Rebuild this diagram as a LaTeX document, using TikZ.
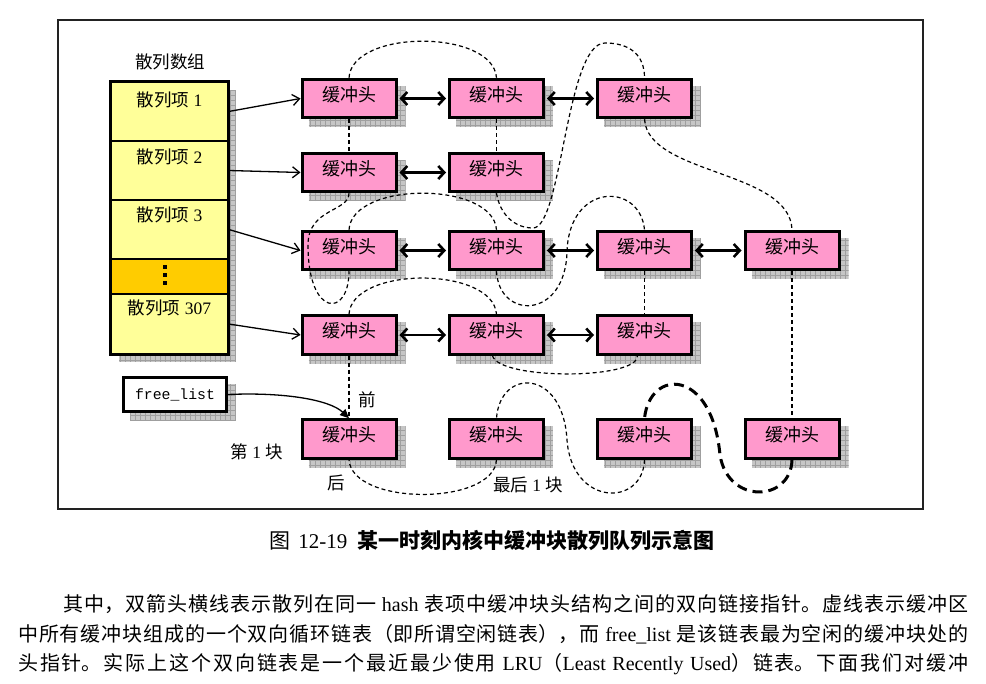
\documentclass[tikz,border=0pt]{standalone}
\usepackage{fontspec}
\setmainfont{Liberation Serif}
\setmonofont{Liberation Mono}
\newfontfamily\cjk{Noto Sans CJK SC}
\usetikzlibrary{arrows.meta}
\XeTeXlinebreaklocale "zh"
\XeTeXlinebreakskip=0pt plus 3pt

\definecolor{bufpink}{HTML}{FF99CC}
\definecolor{hashyellow}{HTML}{FFFF99}
\definecolor{hashorange}{HTML}{FFCC00}
\definecolor{framegray}{HTML}{222222}

\newcommand\shadowat[4]{%
  \begin{scope}
    \clip ({#1-#3+8},{#2-#4+8}) rectangle ({#1+#3+8},{#2+#4+8});
    \fill[gray!45] ({#1-#3+8},{#2-#4+8}) rectangle ({#1+#3+8},{#2+#4+8});
    \draw[gray!75, line width=0.5pt, step=5pt] ({#1-#3+8},{#2-#4+8}) grid ({#1+#3+8},{#2+#4+8});
  \end{scope}}

\newcommand\bufbox[3]{%
  \shadowat{#2}{#3}{48.5}{20.75}
  \node[buf] (#1) at (#2,#3) {\cjk 缓冲头};}

\newcommand\bodyfont{\fontsize{20pt}{24pt}\selectfont}
\newcommand\bodyline[1]{\parbox{950pt}{\bodyfont\tolerance=10000\parfillskip=0pt\noindent #1}}

\tikzset{
  buf/.style={draw, line width=3pt, fill=bufpink, minimum width=94pt, minimum height=38.5pt,
    inner sep=0pt, font=\fontsize{18pt}{21pt}\selectfont, text height=12.5pt, text depth=7pt},
  cell/.style={draw, line width=1.5pt, fill=hashyellow, minimum width=117pt, inner sep=0pt},
  lbl/.style={inner sep=0pt, font=\fontsize{17.5pt}{20pt}\selectfont},
  darr/.style={line width=2.6pt, {Straight Barb[length=6pt,width=13pt]}-{Straight Barb[length=6pt,width=13pt]},
    shorten >=2pt, shorten <=2pt},
  harr/.style={line width=1.3pt, -{Straight Barb[length=7pt,width=11pt]}},
  dsh/.style={line width=1.2pt, dash pattern=on 4pt off 3pt},
  bdsh/.style={line width=3pt, dash pattern=on 10pt off 6pt},
}

\begin{document}
\begin{tikzpicture}[x=1pt, y=-1pt]
\useasboundingbox (0,0) rectangle (986,684);
\fill[white] (0,0) rectangle (986,684);
\draw[line width=1.5pt, framegray] (58,20) rectangle (923,509);

% hash array
\shadowat{169.5}{218}{58.5}{136}
\node[cell, minimum height=59pt] (h1) at (169.5,111.5) {};
\node[cell, minimum height=59pt] (h2) at (169.5,170.5) {};
\node[cell, minimum height=59pt] (h3) at (169.5,229.5) {};
\node[cell, minimum height=35pt, fill=hashorange] (hd) at (169.5,276.5) {};
\node[cell, minimum height=60pt] (h307) at (169.5,324) {};
\draw[line width=3pt] (h1.north west) rectangle (h307.south east);
\fill (163,265) rectangle (167,269);
\fill (163,273) rectangle (167,277);
\fill (163,281) rectangle (167,285);

\node[lbl] (ttl) at (170,62) {\cjk 散列数组};
\node[lbl] (t1) at (169.5,100) {{\cjk 散列项} 1};
\node[lbl] (t2) at (169.5,157) {{\cjk 散列项} 2};
\node[lbl] (t3) at (169.5,215) {{\cjk 散列项} 3};
\node[lbl] (t307) at (169.5,308) {{\cjk 散列项} 307};

% free_list
\shadowat{175}{394.5}{53}{18.5}
\node[draw, line width=3pt, fill=white, minimum width=103pt, minimum height=34pt, inner sep=0pt,
  font=\ttfamily\fontsize{14.8pt}{17pt}\selectfont] (fl) at (175,394.5) {free\_list};

% buffer heads
\bufbox{b11}{349}{98.5}
\bufbox{b12}{496.5}{98.5}
\bufbox{b13}{644.5}{98.5}
\bufbox{b21}{349}{172.5}
\bufbox{b22}{496.5}{172.5}
\bufbox{b31}{349}{250.5}
\bufbox{b32}{496.5}{250.5}
\bufbox{b33}{644.5}{250.5}
\bufbox{b34}{792}{250.5}
\bufbox{b41}{349}{335}
\bufbox{b42}{496.5}{335}
\bufbox{b43}{644.5}{335}
\bufbox{b51}{349}{439}
\bufbox{b52}{496.5}{439}
\bufbox{b53}{644.5}{439}
\bufbox{b54}{792}{439}

% hash arrows
\draw[harr] (h1.east) -- (b11.west);
\draw[harr] (h2.east) -- (b21.west);
\draw[harr] (h3.east) -- (b31.west);
\draw[harr] (h307.east) -- (b41.west);

% double arrows
\draw[darr] (b11.east) -- (b12.west);
\draw[darr] (b12.east) -- (b13.west);
\draw[darr] (b21.east) -- (b22.west);
\draw[darr] (b31.east) -- (b32.west);
\draw[darr] (b32.east) -- (b33.west);
\draw[darr] (b33.east) -- (b34.west);
\draw[darr] (b41.east) -- (b42.west);
\draw[darr] (b42.east) -- (b43.west);

% LRU dashed list
\draw[dsh] (b11.north) .. controls (352,29) and (493,29) .. (b12.north);
\draw[dsh] (b11.south) -- (b21.north);
\draw[dsh] (b12.south) -- (b22.north);
\draw[dsh] (b21.south) .. controls (349,212) and (308,208) .. (308,245)
  .. controls (308,318) and (349,318) .. (b31.south);
\draw[dsh] (b31.north) .. controls (352,181) and (493,181) .. (b32.north);
\draw[dsh] (b41.north) .. controls (352,266) and (493,266) .. (b42.north);
\draw[dsh] (b22.south) .. controls (500,215) and (515,228) .. (533,228)
  .. controls (562,228) and (566,43) .. (605,43)
  .. controls (630,43) and (644.5,55) .. (b13.north);
\draw[dsh] (b13.south) .. controls (648,175) and (790,170) .. (b34.north);
\draw[dsh] (b32.south) .. controls (499,320) and (565,320) .. (567,252)
  .. controls (569,182) and (640,182) .. (b33.north);
\draw[dsh] (b33.south) -- (b43.north);
\draw[dsh] ([xshift=-4pt]b42.south) .. controls (499,380) and (638,380) .. ([xshift=-7pt]b43.south);
\draw[dsh] (b41.south) -- (b51.north);
\draw[dsh] (b34.south) -- (b54.north);
\draw[bdsh] (b54.south) .. controls (791,502) and (728,505) .. (720,455)
  .. controls (712,368) and (650,368) .. (b53.north);
\draw[dsh] (b53.south) .. controls (643,507) and (572,507) .. (567,440)
  .. controls (563,368) and (500,368) .. (b52.north);
\draw[dsh] (b52.south) .. controls (494,506) and (352,506) .. (b51.south);

% free_list arrow
\draw[line width=1.3pt, -{Triangle[length=9pt,width=8pt]}] (fl.east) .. controls (285,392) and (330,400) .. (b51.north);

% labels
\node[lbl] (qian) at (367.7,400) {\cjk 前};
\node[lbl] (hou) at (336.7,483) {\cjk 后};
\node[lbl] (zuihou) at (528,485) {{\cjk 最后} 1 {\cjk 块}};
\node[lbl] (diyi) at (256.7,451.7) {{\cjk 第} 1 {\cjk 块}};

% caption
\node[inner sep=0pt] (cap) at (492,540) {\fontsize{21pt}{24pt}\selectfont{\cjk 图}\hspace{0.4em}12-19\hspace{0.5em}{\cjk\bfseries 某一时刻内核中缓冲块散列队列示意图}};

% body text
\node[anchor=west, inner sep=0pt] (p1) at (18,604) {\bodyline{\hspace*{45pt}{\cjk 其中，双箭头横线表示散列在同一} hash {\cjk 表项中缓冲块头结构之间的双向链接指针。虚线表示缓冲区}}};
\node[anchor=west, inner sep=0pt] (p2) at (18,634) {\bodyline{{\cjk 中所有缓冲块组成的一个双向循环链表（即所谓空闲链表），而} free\_list {\cjk 是该链表最为空闲的缓冲块处的}}};
\node[anchor=west, inner sep=0pt] (p3) at (18,664) {\bodyline{{\cjk 头指针。实际上这个双向链表是一个最近最少使用} LRU{\cjk （}Least Recently Used{\cjk ）链表。下面我们对缓冲}}};
\end{tikzpicture}
\end{document}
